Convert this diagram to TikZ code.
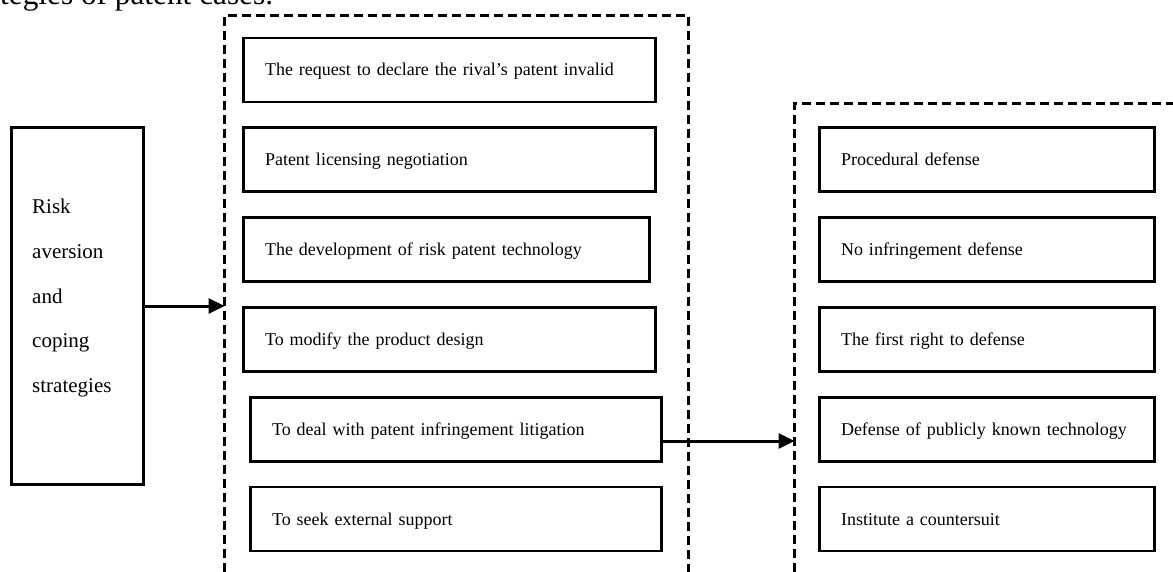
\documentclass[tikz,border=0pt]{standalone}
\usepackage{fontspec}
\setmainfont{Liberation Serif}
\usetikzlibrary{arrows.meta}
\tikzset{
  itembox/.style={draw, line width=2.8pt, rectangle, minimum height=64pt,
    inner ysep=0pt, inner xsep=21.5pt, align=left, text height=12pt, text depth=0pt,
    font=\fontsize{18}{22}\selectfont},
  dashbox/.style={draw, line width=3pt, dash pattern=on 9pt off 5pt},
  conn/.style={line width=3pt, -{Triangle[length=16pt,width=15pt]}},
  risktext/.style={anchor=base west, inner sep=0pt, font=\fontsize{21}{25}\selectfont}
}
\begin{document}
\begin{tikzpicture}[x=1pt,y=-1pt]
\useasboundingbox (0,0) rectangle (1173,572);
\clip (0,0) rectangle (1173,572);
% caption fragment at top
\node[anchor=base west, inner sep=0pt, font=\fontsize{31.3}{34}\selectfont] (cap) at (0,4.5) {tegies of patent cases.};
% dashed groups (cut by the page edges)
\draw[dashbox] (224.5,600) -- (224.5,15.5) -- (688,15.5) -- (688,600);
\draw[dashbox] (794.5,600) -- (794.5,103.5) -- (1200,103.5);
% left box
\node[draw, line width=2.8pt, minimum width=132pt, minimum height=357pt] (risk) at (77.5,306) {};
\node[risktext] (r1) at (32,214) {Risk};
\node[risktext] (r2) at (32,258.5) {aversion};
\node[risktext] (r3) at (32,303) {and};
\node[risktext] (r4) at (32,347.5) {coping};
\node[risktext] (r5) at (32,392) {strategies};
% middle column
\node[itembox, text width=369pt] (m1) at (449.5,70) {The request to declare the rival’s patent invalid};
\node[itembox, text width=369pt] (m2) at (449.5,159.5) {Patent licensing negotiation};
\node[itembox, text width=363pt] (m3) at (446.5,249.5) {The development of risk patent technology};
\node[itembox, text width=369pt] (m4) at (449.5,339.5) {To modify the product design};
\node[itembox, text width=368pt] (m5) at (456,429.5) {To deal with patent infringement litigation};
\node[itembox, text width=368pt] (m6) at (456,519) {To seek external support};
% right column
\node[itembox, text width=292pt] (d1) at (987,159.5) {Procedural defense};
\node[itembox, text width=292pt] (d2) at (987,249.5) {No infringement defense};
\node[itembox, text width=292pt] (d3) at (987,339.5) {The first right to defense};
\node[itembox, text width=292pt] (d4) at (987,429.5) {Defense of publicly known technology};
\node[itembox, text width=292pt] (d5) at (987,519) {Institute a countersuit};
% connectors
\coordinate (lin) at (224.5,306);
\coordinate (m5out) at (663,441);
\coordinate (rin) at (794.5,441);
\draw[conn] (risk.east) -- (lin);
\draw[conn] (m5out) -- (rin);
\end{tikzpicture}
\end{document}
